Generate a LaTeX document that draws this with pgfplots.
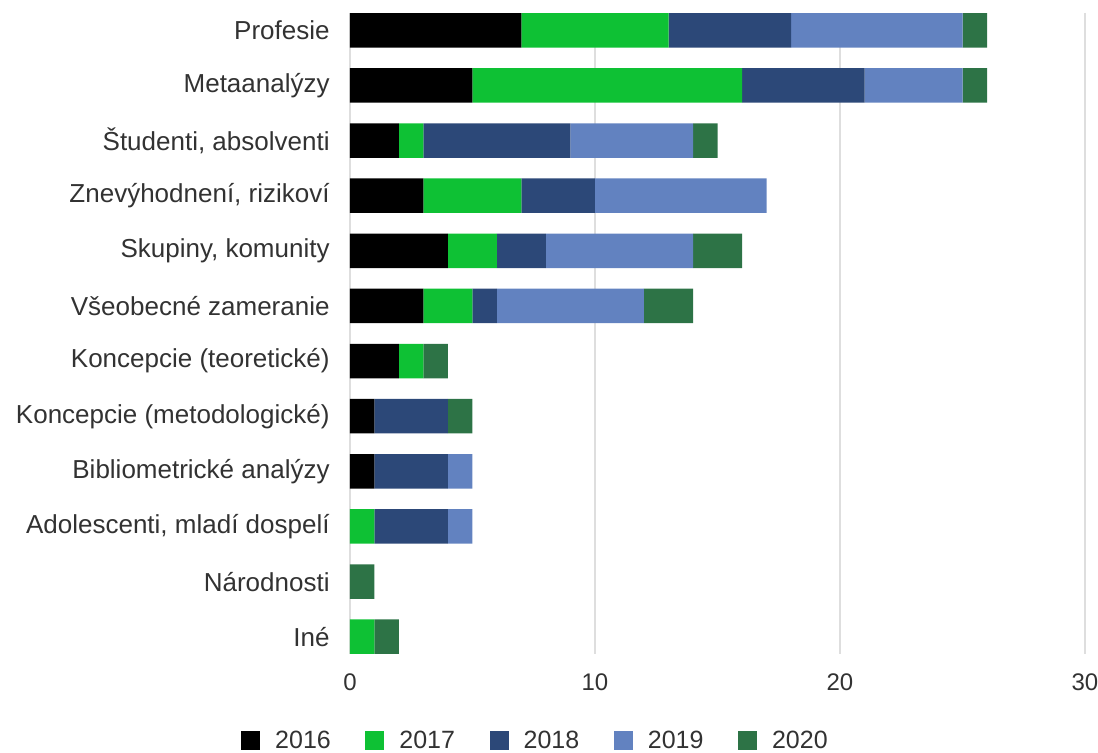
\documentclass[border=0pt]{standalone}
\usepackage{fontspec}
\setmainfont{Liberation Sans}
\usepackage{pgfplots}
\usepackage{pgfplotstable}
\pgfplotsset{compat=1.18}

\definecolor{c16}{RGB}{0,0,0}
\definecolor{c17}{RGB}{14,193,52}
\definecolor{c18}{RGB}{44,72,120}
\definecolor{c19}{RGB}{98,130,192}
\definecolor{c20}{RGB}{45,115,70}
\definecolor{txt}{RGB}{50,50,50}

% y = 0 is the top category
\pgfplotstableread{
y  a16 a17 a18 a19 a20
0  7   6   5   7   1
1  5   11  5   4   1
2  2   1   6   5   1
3  3   4   3   7   0
4  4   2   2   6   2
5  3   2   1   6   2
6  2   1   0   0   1
7  1   0   3   0   1
8  1   0   3   1   0
9  0   1   3   1   0
10 0   0   0   0   1
11 0   1   0   0   1
}\data

\begin{document}
\begin{tikzpicture}
\begin{axis}[
    at={(175pt,49.5pt)}, anchor=south west,
    scale only axis,
    width=367.5pt, height=320.5pt,
    xbar stacked,
    bar width=17.25pt,
    xmin=0, xmax=30,
    ymin=-0.313, ymax=11.313,
    y dir=reverse,
    xtick={0,10,20,30},
    ytick={0,...,11},
    yticklabels={Profesie, Metaanalýzy, Študenti{,} absolventi,
        Znevýhodnení{,} rizikoví, Skupiny{,} komunity, Všeobecné zameranie,
        Koncepcie (teoretické), Koncepcie (metodologické),
        Bibliometrické analýzy, Adolescenti{,} mladí dospelí, Národnosti, Iné},
    axis line style={draw=none},
    major tick length=0pt,
    xmajorgrids,
    grid style={color=black!13, line width=0.7pt},
    /pgf/number format/assume math mode=true,
    xticklabel style={font=\fontsize{12}{14}\selectfont, text=txt,
        anchor=north, inner sep=0pt, yshift=-9.5pt},
    yticklabel style={font=\fontsize{13}{15}\selectfont, text=txt,
        anchor=east, inner sep=0pt, xshift=-10pt},
    legend columns=5,
    legend style={draw=none, fill=none,
        at={(axis description cs:0.2537,-0.1357)}, anchor=center,
        font=\fontsize{12.5}{14}\selectfont, text=txt,
        /tikz/every odd column/.append style={column sep=5.5pt},
        /tikz/every even column/.append style={column sep=15.3pt}},
    legend image code/.code={
        \fill[#1] (0pt,-4.75pt) rectangle (9.5pt,4.75pt);},
]
\addplot[fill=c16, draw=none] table[x=a16, y=y] {\data};
\addlegendentry{2016}
\addplot[fill=c17, draw=none] table[x=a17, y=y] {\data};
\addlegendentry{2017}
\addplot[fill=c18, draw=none] table[x=a18, y=y] {\data};
\addlegendentry{2018}
\addplot[fill=c19, draw=none] table[x=a19, y=y] {\data};
\addlegendentry{2019}
\addplot[fill=c20, draw=none] table[x=a20, y=y] {\data};
\addlegendentry{2020}
\end{axis}
\pgfresetboundingbox
\path (0,0) rectangle (549pt,376.5pt);
\end{tikzpicture}
\end{document}
